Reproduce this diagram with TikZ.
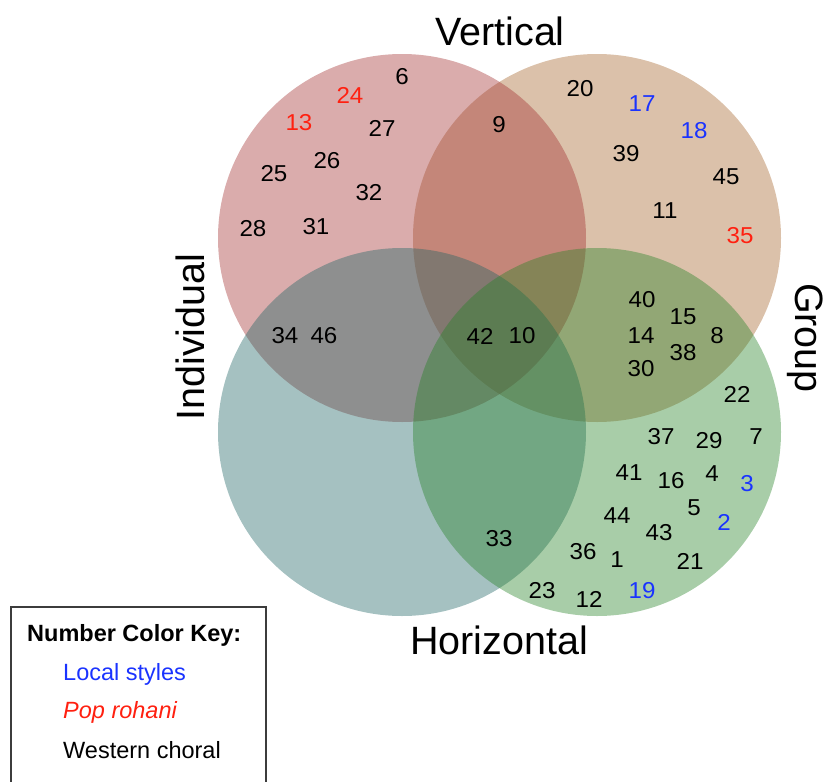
\documentclass[tikz,border=0pt]{standalone}
\usepackage{fontspec}
\setmainfont{Liberation Sans}
\definecolor{setred}{RGB}{162,47,47}
\definecolor{settan}{RGB}{165,100,42}
\definecolor{setteal}{RGB}{30,100,100}
\definecolor{setgreen}{RGB}{38,130,38}
\definecolor{locblue}{RGB}{26,51,255}
\definecolor{popred}{RGB}{255,32,16}
\definecolor{keyframe}{RGB}{60,60,60}
\begin{document}
\begin{tikzpicture}[x=1pt,y=-1pt,
  setdisc/.style={circle,minimum size=368pt,inner sep=0pt,fill opacity=0.4,draw=none},
  num/.style={font=\fontsize{23}{27}\selectfont,inner sep=0pt,xscale=1.05},
  loc/.style={num,text=locblue},
  pop/.style={num,text=popred},
  setlabel/.style={font=\fontsize{39.5}{46}\selectfont,inner sep=0pt},
  keytext/.style={font=\fontsize{23.5}{28}\selectfont,inner sep=0pt,anchor=base west}]
\useasboundingbox (0,0) rectangle (825,782);
\clip (0,0) rectangle (825,782);

% the four sets
\node[setdisc,fill=settan]   (groupvert) at (597,238) {};
\node[setdisc,fill=setred]   (indivvert) at (402,238) {};
\node[setdisc,fill=setteal]  (indivhor)  at (402,432) {};
\node[setdisc,fill=setgreen] (grouphor)  at (597,432) {};

% set labels
\node[setlabel] (lvert) at (500,31) {Vertical};
\node[setlabel] (lhor) at (499,640) {Horizontal};
\node[setlabel,rotate=90] (lind) at (190,337) {Individual};
\node[setlabel,rotate=-90] (lgrp) at (805,338) {Group};

% individual / vertical
\node[num] (n6) at (402,77) {6};
\node[pop] (n24) at (350,95) {24};
\node[pop] (n13) at (299,123) {13};
\node[num] (n27) at (382,128) {27};
\node[num] (n26) at (327,161) {26};
\node[num] (n25) at (274,174) {25};
\node[num] (n32) at (369,193) {32};
\node[num] (n28) at (253,229) {28};
\node[num] (n31) at (316,227) {31};
\node[num] (n9) at (499,125) {9};

% group / vertical
\node[num] (n20) at (580,89) {20};
\node[loc] (n17) at (642,104) {17};
\node[loc] (n18) at (694,131) {18};
\node[num] (n39) at (626,154) {39};
\node[num] (n45) at (726,177) {45};
\node[num] (n11) at (665,211) {11};
\node[pop] (n35) at (740,236) {35};

% middle band
\node[num] (n34) at (285,336) {34};
\node[num] (n46) at (324,336) {46};
\node[num] (n42) at (480,336) {42};
\node[num] (n10) at (522,336) {10};
\node[num] (n40) at (642,300) {40};
\node[num] (n15) at (683,317) {15};
\node[num] (n14) at (641,336) {14};
\node[num] (n8) at (717,336) {8};
\node[num] (n38) at (683,353) {38};
\node[num] (n30) at (641,369) {30};

% group / horizontal
\node[num] (n22) at (737,394) {22};
\node[num] (n37) at (661,437) {37};
\node[num] (n29) at (709,441) {29};
\node[num] (n7) at (756,437) {7};
\node[num] (n41) at (629,473) {41};
\node[num] (n16) at (671,481) {16};
\node[num] (n4) at (712,474) {4};
\node[loc] (n3) at (747,484) {3};
\node[num] (n44) at (617,516) {44};
\node[num] (n5) at (694,508) {5};
\node[loc] (n2) at (724,522) {2};
\node[num] (n43) at (659,533) {43};
\node[num] (n33) at (499,539) {33};
\node[num] (n36) at (583,552) {36};
\node[num] (n1) at (617,560) {1};
\node[num] (n21) at (690,561) {21};
\node[num] (n23) at (542,591) {23};
\node[num] (n12) at (589,599) {12};
\node[loc] (n19) at (642,591) {19};

% colour key
\draw[keyframe,line width=1.3pt] (11,607) rectangle (266,820);
\node[keytext,font=\fontsize{23.5}{28}\selectfont\bfseries] (keyhead) at (27,641) {Number Color Key:};
\node[keytext,text=locblue] (keyloc) at (63,680) {Local styles};
\node[keytext,text=popred,font=\fontsize{23.5}{28}\selectfont\itshape] (keypop) at (63,718) {Pop rohani};
\node[keytext] (keywest) at (63,758) {Western choral};
\end{tikzpicture}
\end{document}
